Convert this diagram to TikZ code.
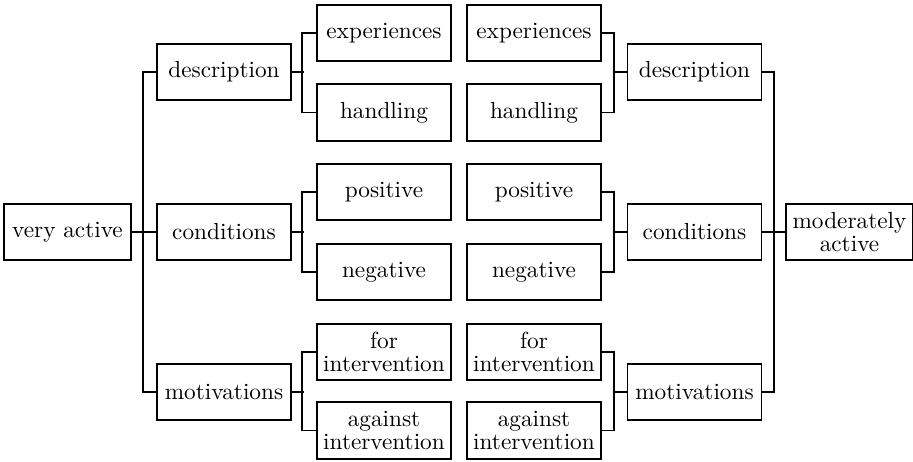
\documentclass[tikz,border=0pt]{standalone}
\begin{document}
\begin{tikzpicture}[x=0.43pt,y=-0.43pt,
  box/.style={draw,line width=0.7pt,minimum width=57.6pt,minimum height=24.3pt,inner sep=0pt,align=center},
  endbox/.style={box,minimum width=54.4pt},
  conn/.style={line width=0.7pt}]
\useasboundingbox (0,0) rectangle (913,462);
\node[endbox] (very) at (67.5,232) {very active};
\node[box] (ldesc) at (224,72) {description};
\node[box] (lcond) at (224,232) {conditions};
\node[box] (lmot) at (224,392) {motivations};
\node[box] (lexp) at (384,33) {experiences};
\node[box] (lhand) at (384,112.5) {handling};
\node[box] (lpos) at (384,192) {positive};
\node[box] (lneg) at (384,272) {negative};
\node[box] (lfor) at (384,352) {for\\[-2pt]intervention};
\node[box] (lag) at (384,430.5) {against\\[-2pt]intervention};
\node[box] (rexp) at (534,33) {experiences};
\node[box] (rhand) at (534,112.5) {handling};
\node[box] (rpos) at (534,192) {positive};
\node[box] (rneg) at (534,272) {negative};
\node[box] (rfor) at (534,352) {for\\[-2pt]intervention};
\node[box] (rag) at (534,430.5) {against\\[-2pt]intervention};
\node[box] (rdesc) at (694.5,72) {description};
\node[box] (rcond) at (694.5,232) {conditions};
\node[box] (rmot) at (694.5,392) {motivations};
\node[endbox] (mod) at (849.5,232) {moderately\\[-2pt]active};
% left trunk
\draw[conn] (very.east) -- (lcond.west);
\draw[conn] (ldesc.west) -- ++(-13,0) |- (lmot.west);
% left brackets
\draw[conn] (ldesc.east) -- ++(12,0);
\draw[conn] (lexp.west) -- ++(-14,0) |- (lhand.west);
\draw[conn] (lcond.east) -- ++(12,0);
\draw[conn] (lpos.west) -- ++(-14,0) |- (lneg.west);
\draw[conn] (lmot.east) -- ++(12,0);
\draw[conn] (lfor.west) -- ++(-14,0) |- (lag.west);
% right brackets
\draw[conn] (rexp.east) -- ++(12,0) |- (rhand.east);
\draw[conn] (rdesc.west) -- ++(-14,0);
\draw[conn] (rpos.east) -- ++(12,0) |- (rneg.east);
\draw[conn] (rcond.west) -- ++(-14,0);
\draw[conn] (rfor.east) -- ++(12,0) |- (rag.east);
\draw[conn] (rmot.west) -- ++(-14,0);
% right trunk
\draw[conn] (rcond.east) -- (mod.west);
\draw[conn] (rdesc.east) -- ++(12,0) |- (rmot.east);
\end{tikzpicture}
\end{document}
